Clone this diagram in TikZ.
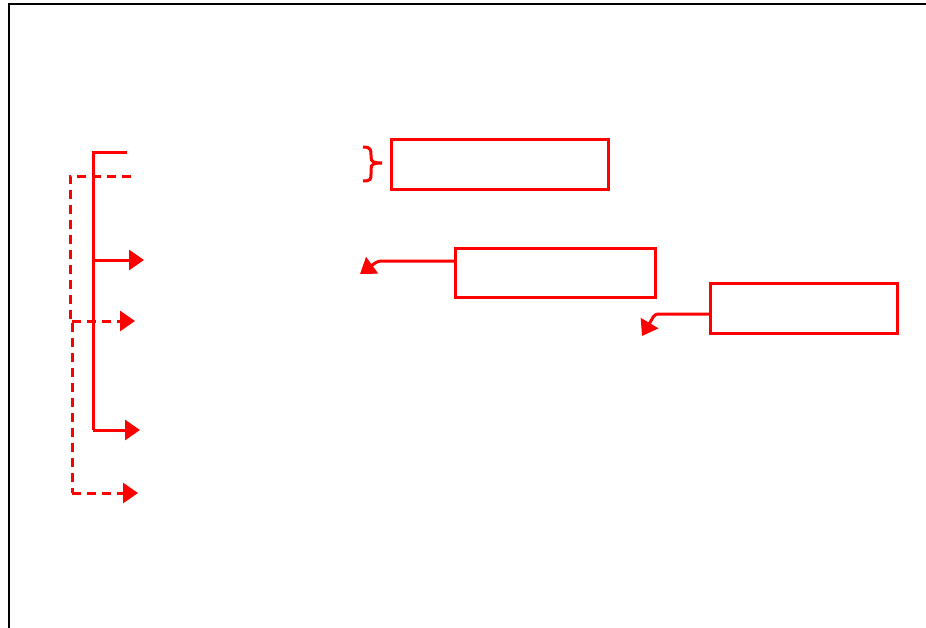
\documentclass[tikz,border=0pt]{standalone}
\usetikzlibrary{arrows.meta}
\begin{document}
\begin{tikzpicture}[x=1pt,y=-1pt,
  redline/.style={draw=red,line width=3pt},
  reddash/.style={draw=red,line width=3pt,dash pattern=on 9pt off 6pt},
  tip/.style={-{Triangle[length=15pt,width=20pt]}},
  rbox/.style={draw=red,line width=3pt,inner sep=0pt,outer sep=0pt}]
\useasboundingbox (0,0) rectangle (926,627);
% frame
\draw[line width=2.4pt,black] (9,630) -- (9,4) -- (930,4);
% boxes
\node[rbox,minimum width=217pt,minimum height=50pt,anchor=north west] (b1) at (391,139) {};
\node[rbox,minimum width=200pt,minimum height=49pt,anchor=north west] (b2) at (455,248) {};
\node[rbox,minimum width=187pt,minimum height=50pt,anchor=north west] (b3) at (710,283) {};
% left solid tree
\coordinate (s0) at (127,152);
\coordinate (s1) at (93,152);
\coordinate (s2) at (93,260);
\coordinate (s3) at (93,430);
\coordinate (t1) at (144,260);
\coordinate (t2) at (140,430);
\draw[redline] (s0) -- (s1) -- (s3);
\draw[redline,tip] (s2) -- (t1);
\draw[redline,tip] (s3) -- (t2);
% left dashed tree
\coordinate (d0) at (131,176);
\coordinate (d1) at (70,176);
\coordinate (d2) at (70,321);
\coordinate (d3) at (72,321);
\coordinate (d4) at (72,493);
\coordinate (u1) at (135,321);
\coordinate (u2) at (138,493);
\draw[reddash] (d0) -- (d1) -- (d2) -- (d3) -- (d4);
\draw[reddash,tip] (d3) -- (u1);
\draw[reddash,tip] (d4) -- (u2);
% brace
\draw[redline] (363,147) .. controls (371,147) and (371,150) .. (371,155) -- (371,157) .. controls (371,162) and (374,163) .. (382,163)
  .. controls (374,163) and (371,164) .. (371,169) -- (371,174) .. controls (371,179) and (371,181) .. (363,181);
% box arrows
\coordinate (a2) at (378,261);
\coordinate (e2) at (360,274);
\draw[redline,tip,rounded corners=3pt] (b2.west |- a2) -- (a2) -- (e2);
\coordinate (a3) at (655,314);
\coordinate (e3) at (642,336);
\draw[redline,tip,rounded corners=3pt] (b3.west |- a3) -- (a3) -- (e3);
\end{tikzpicture}
\end{document}
